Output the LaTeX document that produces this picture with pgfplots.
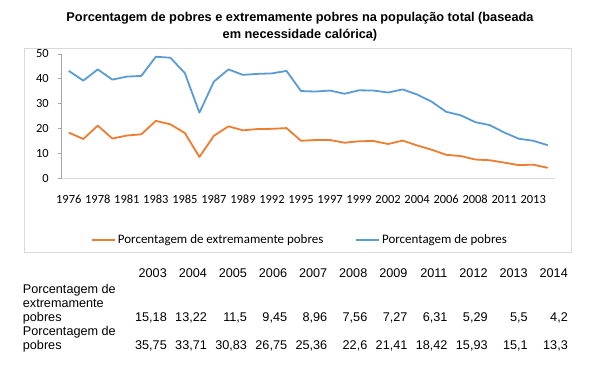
\documentclass[border=0pt]{standalone}
\usepackage{pgfplots}
\pgfplotsset{compat=1.18}
\usepackage{fontspec}
\setmainfont{Liberation Sans}
\newfontfamily\carlito[Numbers=Lining]{Carlito}
\definecolor{exorange}{HTML}{ED7D31}
\definecolor{exblue}{HTML}{5B9BD5}
\definecolor{boxgray}{HTML}{D9D9D9}
\definecolor{axgray}{HTML}{A6A6A6}
\begin{document}
\begin{tikzpicture}[x=1bp,y=1bp]
\path[use as bounding box] (0,0) rectangle (600,377);
\coordinate (axorig) at (61.5,198.7);
\draw[boxgray, line width=0.75bp] (24,{377-48}) rectangle (571,{377-252});
\node[font=\bfseries\fontsize{12.8}{17}\selectfont, align=center] at (300,{377-26.5})
  {Porcentagem de pobres e extremamente pobres na população total (baseada\\em necessidade calórica)};
\begin{axis}[
  at={(axorig)}, anchor=south west,
  scale only axis, width=493.5bp, height=124.3bp,
  xmin=-0.5, xmax=33.5, ymin=0, ymax=50,
  axis x line*=bottom, axis y line*=left,
  x axis line style={boxgray, line width=0.9bp, -},
  y axis line style={axgray, line width=0.9bp, -},
  ytick={0,10,20,30,40,50},
  xtick={0,2,...,32},
  xticklabels={1976,1978,1981,1983,1985,1987,1989,1992,1995,1997,1999,2002,2004,2006,2008,2011,2013},
  tick align=outside, major tick length=4bp,
  ytick style={axgray, line width=0.9bp},
  xtick style={draw=none},
  /pgf/number format/assume math mode=true,
  tick label style={font=\carlito\fontsize{12.5}{12.5}\selectfont, text=black},
  yticklabel style={inner sep=0pt, anchor=east, xshift=-8.5bp},
  xticklabel style={inner sep=0pt, anchor=base, yshift=-21bp},
  legend columns=2,
  legend style={at={(0.4833,-0.496)}, anchor=center, draw=none, fill=none,
    font=\carlito\fontsize{13}{13}\selectfont,
    /tikz/every even column/.append style={column sep=30bp}},
  legend image code/.code={\draw[#1, line width=1.8bp] (0bp,0bp) -- (23bp,0bp);},
  legend cell align=left,
]
\addplot[exorange, line width=1.8bp, line join=round] coordinates {
(0,18.4) (1,15.8) (2,21.2) (3,16.0) (4,17.2) (5,17.7) (6,23.1) (7,21.7)
(8,18.2) (9,8.6) (10,17.1) (11,20.9) (12,19.3) (13,19.8) (14,19.9) (15,20.2)
(16,15.1) (17,15.4) (18,15.4) (19,14.3) (20,14.9) (21,15.0) (22,13.8)
(23,15.18) (24,13.22) (25,11.5) (26,9.45) (27,8.96) (28,7.56) (29,7.27)
(30,6.31) (31,5.29) (32,5.5) (33,4.2)};
\addlegendentry{Porcentagem de extremamente pobres}
\addplot[exblue, line width=1.8bp, line join=round] coordinates {
(0,43.2) (1,39.3) (2,43.8) (3,39.7) (4,40.9) (5,41.2) (6,48.9) (7,48.5)
(8,42.3) (9,26.4) (10,38.9) (11,43.8) (12,41.6) (13,42.0) (14,42.2) (15,43.2)
(16,35.1) (17,34.9) (18,35.3) (19,34.0) (20,35.4) (21,35.3) (22,34.5)
(23,35.75) (24,33.71) (25,30.83) (26,26.75) (27,25.36) (28,22.6) (29,21.41)
(30,18.42) (31,15.93) (32,15.1) (33,13.3)};
\addlegendentry{Porcentagem de pobres}
\end{axis}
% data table
\begin{scope}[every node/.style={font=\fontsize{12.7}{12.7}\selectfont, inner sep=0pt}]
\foreach \yr [count=\i from 0] in {2003,2004,2005,2006,2007,2008,2009,2011,2012,2013,2014}
  \node[anchor=base east] at ({167+40.1*\i},{377-277.3}) {\yr};
\node[anchor=base west] at (22.7,{377-293}) {Porcentagem de};
\node[anchor=base west] at (22.7,{377-307.2}) {extremamente};
\node[anchor=base west] at (22.7,{377-321.4}) {pobres};
\node[anchor=base west] at (22.7,{377-335.6}) {Porcentagem de};
\node[anchor=base west] at (22.7,{377-349.8}) {pobres};
\foreach \v [count=\i from 0] in {{15,18},{13,22},{11,5},{9,45},{8,96},{7,56},{7,27},{6,31},{5,29},{5,5},{4,2}}
  \node[anchor=base east] at ({167+40.1*\i},{377-321.4}) {\v};
\foreach \v [count=\i from 0] in {{35,75},{33,71},{30,83},{26,75},{25,36},{22,6},{21,41},{18,42},{15,93},{15,1},{13,3}}
  \node[anchor=base east] at ({167+40.1*\i},{377-349.8}) {\v};
\end{scope}
\end{tikzpicture}
\end{document}
